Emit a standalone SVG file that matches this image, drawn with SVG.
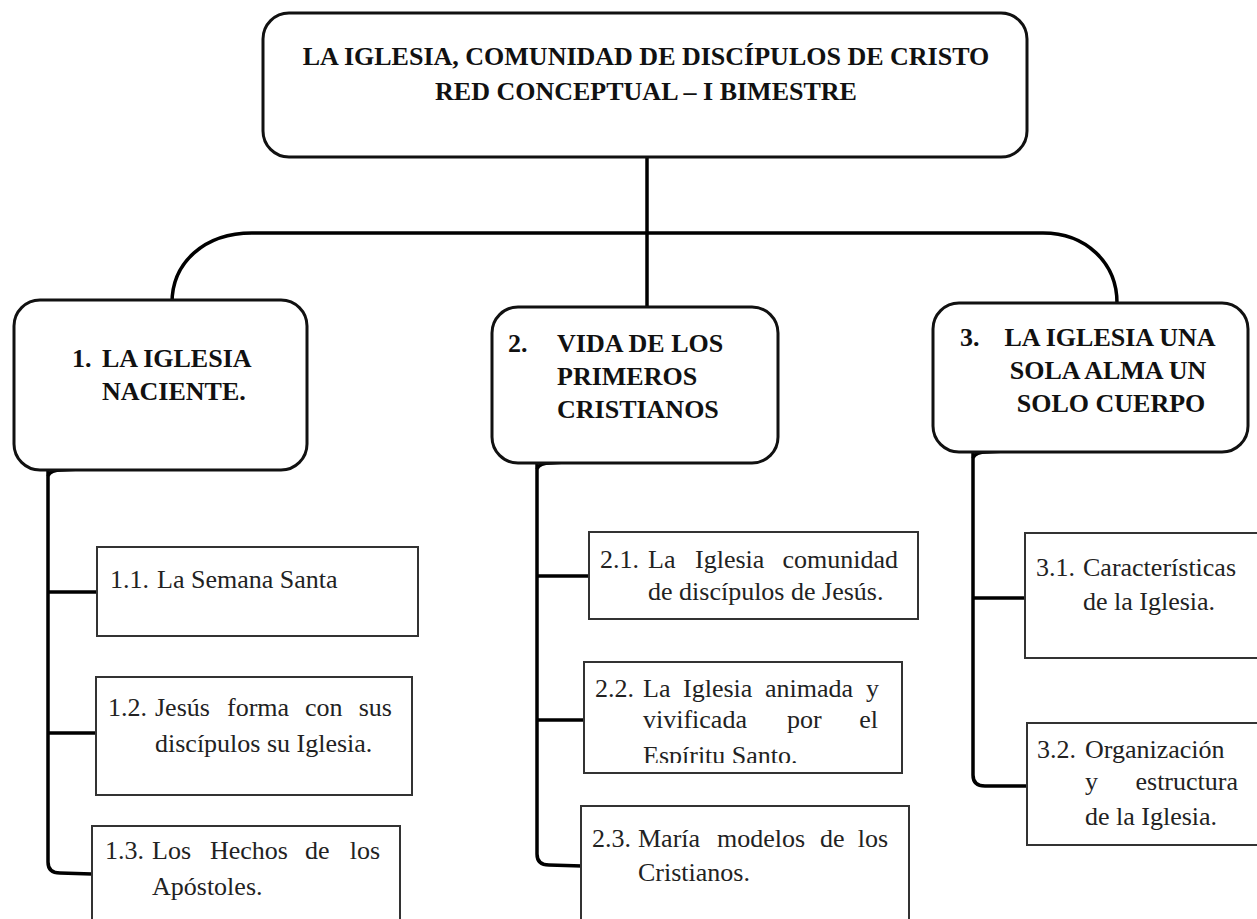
<svg xmlns="http://www.w3.org/2000/svg" width="1257" height="919" viewBox="0 0 1257 919">
<style>
  .hdr{fill:#fff;stroke:#111;stroke-width:3}
  .sub{fill:#fff;stroke:#333;stroke-width:2}
  .con{fill:none;stroke:#000;stroke-width:3.5;stroke-linecap:butt}
  .tb{font-family:"Liberation Serif","Times New Roman",serif;font-weight:bold;font-size:26px;fill:#111}
  .tr{font-family:"Liberation Serif","Times New Roman",serif;font-size:26px;fill:#222}
</style>
<defs>
  <clipPath id="clip22"><rect x="584" y="662" width="318" height="101"/></clipPath>
</defs>
<rect width="1257" height="919" fill="#fff"/>

<g id="connectors">
  <path class="con" d="M647,157 L647,307"/>
  <path class="con" d="M172,303 C172,262 205,233 252,233 L1043,233 C1085,233 1117,262 1117,303"/>
  <path class="con" d="M48,470 L48,862 Q48,873 60,873 L92,874"/>
  <path class="con" d="M48,476 Q50,470 62,470 L80,469"/>
  <path class="con" d="M48,592 L97,592"/>
  <path class="con" d="M48,733 L96,733"/>
  <path class="con" d="M537,463 L537,854 Q537,865 549,865 L582,866"/>
  <path class="con" d="M537,469 Q539,463 551,463 L565,462"/>
  <path class="con" d="M537,576 L589,576"/>
  <path class="con" d="M537,720 L584,720"/>
  <path class="con" d="M973,452 L973,775 Q973,786 985,786 L1027,786"/>
  <path class="con" d="M973,458 Q975,452 987,452 L1005,451"/>
  <path class="con" d="M973,598 L1025,598"/>
</g>

<g id="root">
  <rect class="hdr" x="263" y="13" width="764" height="144" rx="26"/>
  <text class="tb" x="646" y="65" text-anchor="middle">LA IGLESIA, COMUNIDAD DE DISCÍPULOS DE CRISTO</text>
  <text class="tb" x="646" y="100" text-anchor="middle">RED CONCEPTUAL – I BIMESTRE</text>
</g>

<g id="n1">
  <rect class="hdr" x="14" y="300" width="293" height="170" rx="26"/>
  <text class="tb" x="72" y="367">1.</text>
  <text class="tb" x="102" y="367">LA IGLESIA</text>
  <text class="tb" x="102" y="400">NACIENTE.</text>
</g>

<g id="n2">
  <rect class="hdr" x="492" y="307" width="286" height="156" rx="26"/>
  <text class="tb" x="508" y="352">2.</text>
  <text class="tb" x="557" y="352">VIDA DE LOS</text>
  <text class="tb" x="557" y="385">PRIMEROS</text>
  <text class="tb" x="557" y="418">CRISTIANOS</text>
</g>

<g id="n3">
  <rect class="hdr" x="933" y="303" width="315" height="149" rx="26"/>
  <text class="tb" x="960" y="346">3.</text>
  <text class="tb" x="1110" y="346" text-anchor="middle">LA IGLESIA UNA</text>
  <text class="tb" x="1108" y="379" text-anchor="middle">SOLA ALMA UN</text>
  <text class="tb" x="1111" y="412" text-anchor="middle">SOLO CUERPO</text>
</g>

<g id="n1-1">
  <rect class="sub" x="97" y="547" width="321" height="89"/>
  <text class="tr" x="110" y="588">1.1.</text>
  <text class="tr" x="157" y="588">La Semana Santa</text>
</g>

<g id="n1-2">
  <rect class="sub" x="96" y="677" width="316" height="118"/>
  <text class="tr" x="108" y="716">1.2.</text>
  <text class="tr" x="155" y="716">Jesús</text>
  <text class="tr" x="227" y="716">forma</text>
  <text class="tr" x="305" y="716">con</text>
  <text class="tr" x="392" y="716" text-anchor="end">sus</text>
  <text class="tr" x="155" y="752">discípulos su Iglesia.</text>
</g>

<g id="n1-3">
  <rect class="sub" x="92" y="826" width="308" height="110"/>
  <text class="tr" x="105" y="859">1.3.</text>
  <text class="tr" x="152" y="859">Los</text>
  <text class="tr" x="210" y="859">Hechos</text>
  <text class="tr" x="305" y="859">de</text>
  <text class="tr" x="380" y="859" text-anchor="end">los</text>
  <text class="tr" x="152" y="895">Apóstoles.</text>
</g>

<g id="n2-1">
  <rect class="sub" x="589" y="532" width="329" height="87"/>
  <text class="tr" x="600" y="568">2.1.</text>
  <text class="tr" x="648" y="568">La</text>
  <text class="tr" x="695" y="568">Iglesia</text>
  <text class="tr" x="898" y="568" text-anchor="end">comunidad</text>
  <text class="tr" x="648" y="600">de discípulos de Jesús.</text>
</g>

<g id="n2-2">
  <rect class="sub" x="584" y="662" width="318" height="111"/>
  <text class="tr" x="595" y="697">2.2.</text>
  <text class="tr" x="643" y="697">La</text>
  <text class="tr" x="683" y="697">Iglesia</text>
  <text class="tr" x="765" y="697">animada</text>
  <text class="tr" x="879" y="697" text-anchor="end">y</text>
  <text class="tr" x="643" y="728">vivificada</text>
  <text class="tr" x="787" y="728">por</text>
  <text class="tr" x="878" y="728" text-anchor="end">el</text>
  <text class="tr" x="643" y="764" clip-path="url(#clip22)">Espíritu Santo.</text>
</g>

<g id="n2-3">
  <rect class="sub" x="581" y="806" width="328" height="130"/>
  <text class="tr" x="592" y="847">2.3.</text>
  <text class="tr" x="638" y="847">María</text>
  <text class="tr" x="717" y="847">modelos</text>
  <text class="tr" x="820" y="847">de</text>
  <text class="tr" x="888" y="847" text-anchor="end">los</text>
  <text class="tr" x="638" y="881">Cristianos.</text>
</g>

<g id="n3-1">
  <rect class="sub" x="1025" y="533" width="245" height="125"/>
  <text class="tr" x="1036" y="576">3.1.</text>
  <text class="tr" x="1083" y="576">Características</text>
  <text class="tr" x="1083" y="610">de la Iglesia.</text>
</g>

<g id="n3-2">
  <rect class="sub" x="1027" y="723" width="245" height="122"/>
  <text class="tr" x="1037" y="758">3.2.</text>
  <text class="tr" x="1085" y="758">Organización</text>
  <text class="tr" x="1085" y="790">y</text>
  <text class="tr" x="1238" y="790" text-anchor="end">estructura</text>
  <text class="tr" x="1085" y="825">de la Iglesia.</text>
</g>
</svg>
